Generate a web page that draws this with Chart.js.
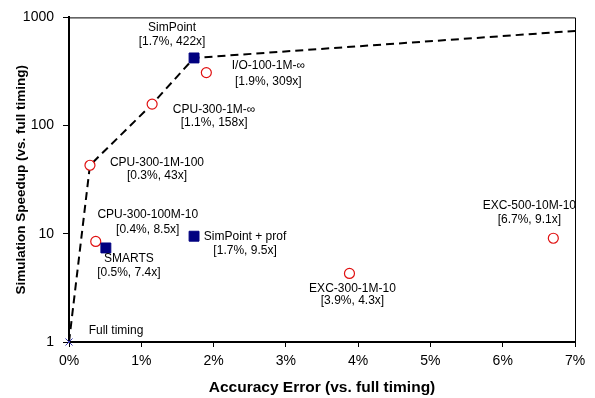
<!DOCTYPE html>
<html>
<head>
<meta charset="utf-8">
<script src="https://cdn.jsdelivr.net/npm/chart.js@4.4.1/dist/chart.umd.min.js"></script>
<style>
  html, body { margin: 0; padding: 0; background: #fff; }
  #wrap { width: 595px; height: 398px; position: relative; }
</style>
</head>
<body>
<div id="wrap"><canvas id="c"></canvas></div>
<script>
// ---- data ----
const xTicks = [0, 1, 2, 3, 4, 5, 6, 7];          // accuracy error, %
const yTicks = [1, 10, 100, 1000];                // speedup

const frontierX = [0, 0.29, 1.15, 1.73, 7];
const frontierY = [1, 43, 158, 422, 750];

const circleNames = ["CPU-300-1M-100", "CPU-300-1M-\u221E", "I/O-100-1M-\u221E", "CPU-300-100M-10", "EXC-300-1M-10", "EXC-500-10M-10"];
const circleX = [0.29, 1.15, 1.9, 0.37, 3.88, 6.7];
const circleY = [43, 158, 309, 8.5, 4.3, 9.1];
const circleLabels = ["[0.3%, 43x]", "[1.1%, 158x]", "[1.9%, 309x]", "[0.4%, 8.5x]", "[3.9%, 4.3x]", "[6.7%, 9.1x]"];

const squareNames = ["SimPoint", "SMARTS", "SimPoint + prof"];
const squareX = [1.73, 0.51, 1.73];
const squareY = [422, 7.4, 9.5];
const squareLabels = ["[1.7%, 422x]", "[0.5%, 7.4x]", "[1.7%, 9.5x]"];

const crossNames = ["Full timing"];
const crossX = [0];
const crossY = [1];
const crossLabels = [""];

// label placement (pixel offsets from the marker: dx, dy of line 1, dy of line 2)
const circleOffsets = [[67, -3, 10], [62, 6, 19], [62, -7, 9], [52, -27, -12], [3, 15, 27], [-24, -33, -19]];
const squareOffsets = [[-22, -30, -16], [23, 11, 25], [51, 0, 14]];
const crossOffsets = [[47, -11, 3]];

const toPts = (xs, ys) => xs.map((x, i) => ({ x: x, y: ys[i] }));

const FONT = "'Liberation Sans', Arial, Helvetica, sans-serif";

const labelPlugin = {
  id: 'pointLabels',
  afterDatasetsDraw(chart) {
    const ctx = chart.ctx;
    const xs = chart.scales.x, ys = chart.scales.y;
    const groups = [
      [circleNames, circleX, circleY, circleLabels, circleOffsets],
      [squareNames, squareX, squareY, squareLabels, squareOffsets],
      [crossNames, crossX, crossY, crossLabels, crossOffsets]
    ];
    ctx.save();
    ctx.font = "12px " + FONT;
    ctx.fillStyle = "#000";
    ctx.textAlign = "center";
    ctx.textBaseline = "middle";
    groups.forEach(([names, gx, gy, labs, offs]) => {
      names.forEach((n, i) => {
        const px = xs.getPixelForValue(gx[i]);
        const py = ys.getPixelForValue(gy[i]);
        const o = offs[i];
        ctx.fillText(n, px + o[0], py + o[1]);
        if (labs[i]) ctx.fillText(labs[i], px + o[0], py + o[2]);
      });
    });
    ctx.restore();
  }
};

const framePlugin = {
  id: 'frame',
  afterDraw(chart) {
    const a = chart.chartArea, ctx = chart.ctx;
    ctx.save();
    ctx.strokeStyle = "#000";
    ctx.lineWidth = 1;
    ctx.beginPath();
    ctx.moveTo(a.left, a.top + 0.5);
    ctx.lineTo(a.right + 0.5, a.top + 0.5);
    ctx.lineTo(a.right + 0.5, a.bottom);
    ctx.stroke();
    ctx.restore();
  }
};

new Chart(document.getElementById('c'), {
  type: 'scatter',
  data: {
    datasets: [
      {
        label: 'Full timing',
        data: toPts(crossX, crossY),
        pointStyle: 'crossRot',
        pointRadius: 5,
        borderColor: '#3a3ab0',
        borderWidth: 1,
        backgroundColor: '#3a3ab0',
        clip: false,
        order: 1
      },
      {
        label: 'Squares',
        data: toPts(squareX, squareY),
        pointStyle: 'rect',
        pointRadius: 7,
        borderColor: '#000080',
        backgroundColor: '#000080',
        borderWidth: 1,
        order: 2
      },
      {
        label: 'Circles',
        data: toPts(circleX, circleY),
        pointStyle: 'circle',
        pointRadius: 5,
        borderColor: '#e01010',
        backgroundColor: '#ffffff',
        borderWidth: 1.2,
        order: 3
      },
      {
        label: 'Frontier',
        data: toPts(frontierX, frontierY),
        showLine: true,
        pointRadius: 0,
        borderColor: '#000',
        borderWidth: 2,
        borderDash: [8, 5],
        fill: false,
        clip: false,
        order: 10
      }
    ]
  },
  options: {
    responsive: true,
    maintainAspectRatio: false,
    animation: false,
    layout: { padding: { top: 13, right: 20, left: 0, bottom: 0 } },
    plugins: { legend: { display: false }, tooltip: { enabled: false } },
    scales: {
      x: {
        type: 'linear',
        min: 0, max: 7,
        afterBuildTicks: s => { s.ticks = xTicks.map(v => ({ value: v })); },
        afterFit: s => { s.height = 56; },
        ticks: {
          callback: v => v + '%',
          font: { family: FONT, size: 14 },
          color: '#000',
          padding: 6,
          maxRotation: 0
        },
        grid: { drawOnChartArea: false, drawTicks: true, tickLength: 5, color: '#000' },
        border: { display: true, color: '#000', width: 2 },
        title: {
          display: true,
          text: 'Accuracy Error (vs. full timing)',
          font: { family: FONT, size: 15.5, weight: 'bold' },
          color: '#000',
          padding: { top: 0, bottom: 1 }
        }
      },
      y: {
        type: 'logarithmic',
        min: 1, max: 1000,
        afterBuildTicks: s => { s.ticks = yTicks.map(v => ({ value: v })); },
        afterFit: s => { s.width = 69; },
        ticks: {
          callback: v => String(v),
          font: { family: FONT, size: 14 },
          color: '#000',
          padding: 9
        },
        grid: { drawOnChartArea: false, drawTicks: true, tickLength: 6, color: '#000' },
        border: { display: true, color: '#000', width: 2 },
        title: {
          display: true,
          text: 'Simulation Speedup (vs. full timing)',
          font: { family: FONT, size: 13.5, weight: 'bold' },
          color: '#000',
          padding: { top: 13, bottom: 0 }
        }
      }
    }
  },
  plugins: [labelPlugin, framePlugin]
});
</script>
</body>
</html>
